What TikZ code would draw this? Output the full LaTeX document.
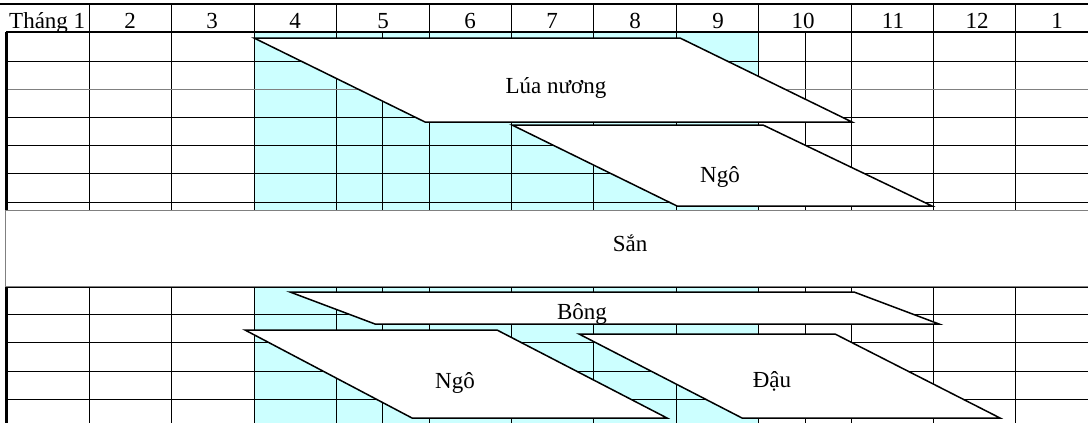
\documentclass[tikz,border=0pt]{standalone}
\usepackage{fontspec}
\setmainfont{Liberation Serif}
\definecolor{cyanfill}{HTML}{CCFFFF}
\begin{document}
\begin{tikzpicture}[x=1pt,y=-1pt,
  grid/.style={line width=1pt,black},
  crop/.style={draw=black,line width=1.5pt,fill=white,line join=miter},
  lbl/.style={font=\fontsize{23}{25}\selectfont,inner sep=0pt,anchor=base},
  hdr/.style={font=\fontsize{23}{25}\selectfont,inner sep=0pt,anchor=base}]
\useasboundingbox (0,0) rectangle (1088,423);
% shaded months 4-9
\fill[cyanfill] (254,32) rectangle (758,423);
% body grid
\foreach \x in {89,171,254,336,382,429,511,593,676,758,805,851,933,1015}
  \draw[grid] (\x,32) -- (\x,423);
\foreach \x in {89,171,254,336,429,511,593,676,758,851,933,1015}
  \draw[grid] (\x,4) -- (\x,32);
\foreach \y in {61,117,145,173,202,287,314,342,371,399}
  \draw[grid] (6,\y) -- (1088,\y);
\draw[line width=1pt,gray] (6,89) -- (1088,89);
\draw[line width=2pt] (0,4) -- (1088,4);
\draw[line width=2.5pt] (6,32) -- (1088,32);
\draw[line width=3pt] (6,32) -- (6,423);
% header
\node[hdr,anchor=base west] (h1) at (9,28) {Tháng 1};
\foreach \m/\x in {2/130,3/212,4/295,5/383,6/470,7/552,8/635,9/718,10/803,11/893,12/977}
  \node[hdr] (h\m) at (\x,28) {\m};
\node[hdr] (h13) at (1057,28) {1};
% San box
\draw[gray,line width=1pt,fill=white] (5,210) rectangle (1095,286);
\node[lbl] (san) at (630,251) {Sắn};
% crops
\draw[crop] (254,38) -- (680,38) -- (852,122) -- (425,122) -- cycle;
\node[lbl] (lua) at (556,93) {Lúa nương};
\draw[crop] (512,125) -- (763,125) -- (932,206) -- (677,206) -- cycle;
\node[lbl] (ngo1) at (720,182) {Ngô};
\draw[crop] (290,292) -- (854,292) -- (939,324) -- (375,324) -- cycle;
\node[lbl] (bong) at (582,319) {Bông};
\draw[crop] (245,330) -- (497,330) -- (667,418) -- (412,418) -- cycle;
\node[lbl] (ngo2) at (455,388) {Ngô};
\draw[crop] (579,334) -- (835,334) -- (1000,418) -- (742,418) -- cycle;
\node[lbl] (dau) at (772,387) {Đậu};
\end{tikzpicture}
\end{document}
